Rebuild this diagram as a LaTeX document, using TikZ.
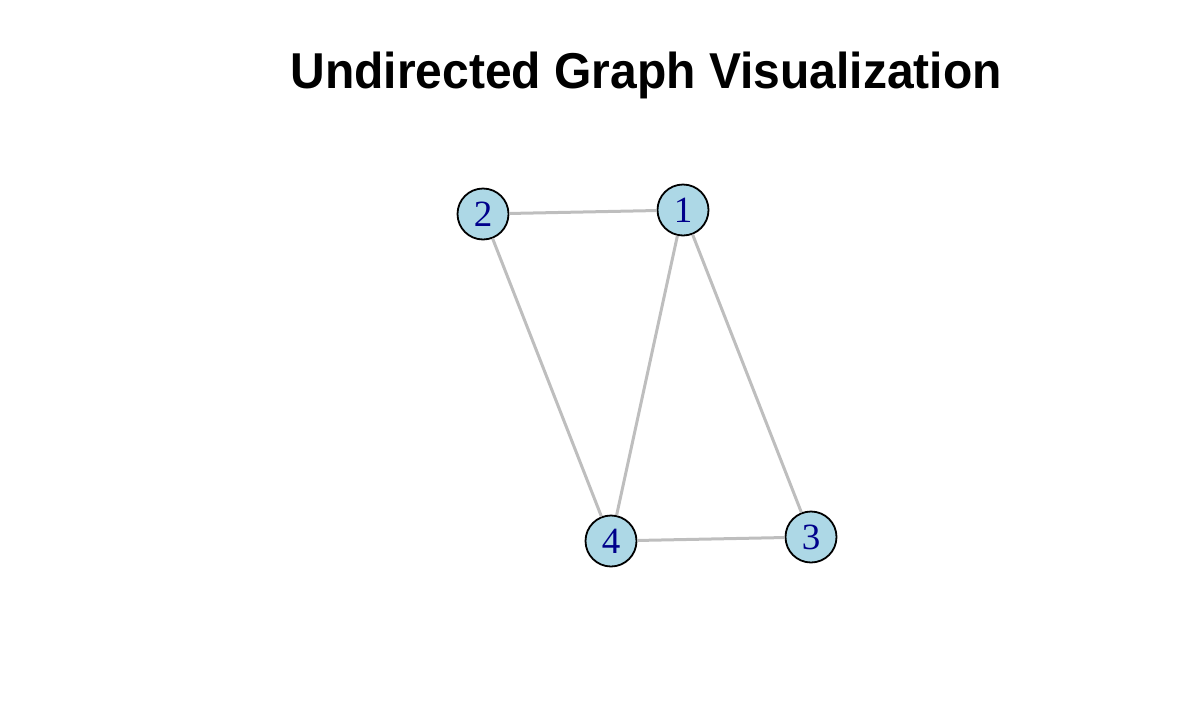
\documentclass[tikz,border=0pt]{standalone}
\usepackage{fontspec}
\setmainfont{Liberation Serif}
\newfontfamily\titlefont{Liberation Sans}
\begin{document}
\begin{tikzpicture}[x=1pt,y=-1pt,
  vtx/.style={circle,draw=black,line width=1.8pt,fill={rgb,255:red,173;green,216;blue,230},minimum size=51pt,inner sep=0pt,text={rgb,255:red,0;green,0;blue,139},font=\fontsize{37}{37}\selectfont},
  edge/.style={draw={rgb,255:red,190;green,190;blue,190},line width=3pt}]
\useasboundingbox (0,0) rectangle (1194,718);
\node[font=\titlefont\bfseries\fontsize{48}{48}\selectfont,yscale=1.05] (title) at (646,75) {Undirected Graph Visualization};
\node[vtx] (n2) at (483,214) {2};
\node[vtx] (n1) at (683,210) {1};
\node[vtx] (n4) at (611,541) {4};
\node[vtx] (n3) at (811,537) {3};
\draw[edge] (n2) -- (n1);
\draw[edge] (n2) -- (n4);
\draw[edge] (n1) -- (n4);
\draw[edge] (n1) -- (n3);
\draw[edge] (n4) -- (n3);
\end{tikzpicture}
\end{document}
